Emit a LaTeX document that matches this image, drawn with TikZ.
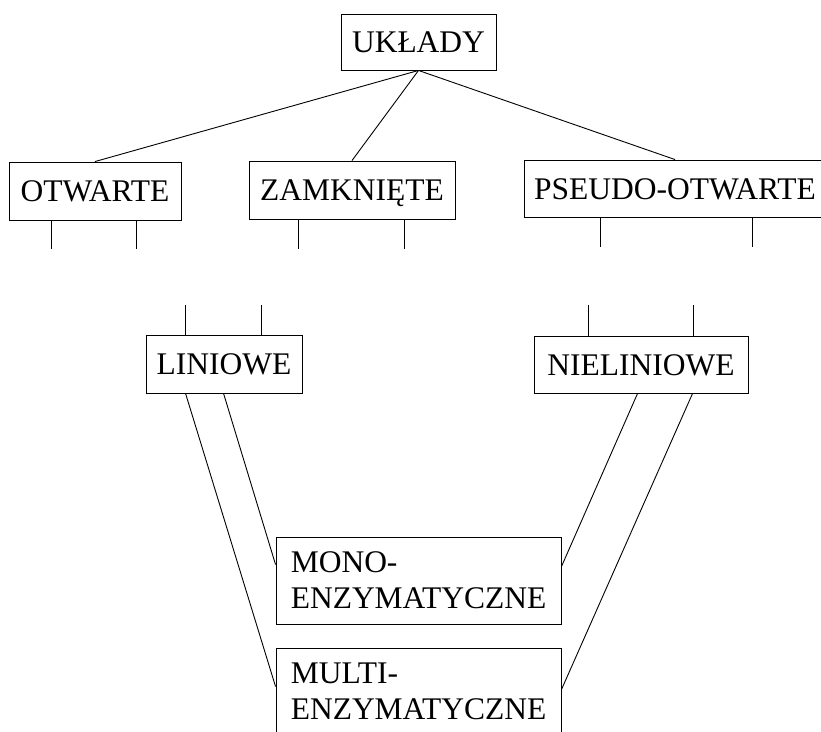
\documentclass[tikz,border=0pt]{standalone}
\usepackage{fontspec}
\setmainfont{Liberation Serif}
\usetikzlibrary{calc}
\begin{document}
\begin{tikzpicture}[x=1pt,y=1pt,
  basebox/.style={draw, line width=0.9pt, inner sep=0pt,
    font=\fontsize{31.5}{36}\selectfont},
  box/.style={basebox, text height=21pt, text depth=0pt},
  twoline/.style={basebox, align=left},
  link/.style={line width=0.9pt}]
\useasboundingbox (0,0) rectangle (821,-731);
\clip (0,0) rectangle (821,-731);
% nodes
\node[box, minimum width=155pt, minimum height=56pt] (u) at (418.5,-42) {UKŁADY};
\node[box, minimum width=172pt, minimum height=58pt] (o) at (95,-191) {OTWARTE};
\node[box, minimum width=206pt, minimum height=58pt] (z) at (352,-190) {ZAMKNIĘTE};
\node[box, minimum width=302pt, minimum height=57pt] (p) at (675,-188.5) {PSEUDO-OTWARTE};
\node[box, minimum width=156pt, minimum height=58pt] (l) at (224,-364) {LINIOWE};
\node[box, minimum width=214pt, minimum height=57pt] (n) at (641,-364.5) {NIELINIOWE};
\node[twoline, minimum width=285pt, minimum height=87pt] (mono) at (418.5,-580.5) {MONO-\\ENZYMATYCZNE};
\node[twoline, minimum width=285pt, minimum height=87pt] (multi) at (418.5,-691.5) {MULTI-\\ENZYMATYCZNE};
% tree links
\draw[link] (u.south) -- (o.north);
\draw[link] (u.south) -- (z.north);
\draw[link] (u.south) -- (p.north);
% free stubs
\coordinate (o1) at (51,-249);
\coordinate (o2) at (136,-249);
\coordinate (z1) at (298,-249);
\coordinate (z2) at (404,-249);
\coordinate (p1) at (600,-247);
\coordinate (p2) at (752,-247);
\coordinate (l1) at (185,-305);
\coordinate (l2) at (261,-305);
\coordinate (n1) at (588,-305);
\coordinate (n2) at (693,-305);
\foreach \c/\b in {o1/o,o2/o,z1/z,z2/z,p1/p,p2/p}
  \draw[link] (\c |- \b.south) -- (\c);
\foreach \c/\b in {l1/l,l2/l,n1/n,n2/n}
  \draw[link] (\c |- \b.north) -- (\c);
% links to enzymatic boxes
\draw[link] ($(l.south west)+(40,0)$) -- ($(multi.north west)+(0,-39)$);
\draw[link] ($(l.south west)+(78,0)$) -- ($(mono.north west)+(0,-28)$);
\draw[link] ($(n.south west)+(104,0)$) -- ($(mono.north east)+(0,-30)$);
\draw[link] ($(n.south west)+(159,0)$) -- ($(multi.north east)+(0,-42)$);
\end{tikzpicture}
\end{document}
